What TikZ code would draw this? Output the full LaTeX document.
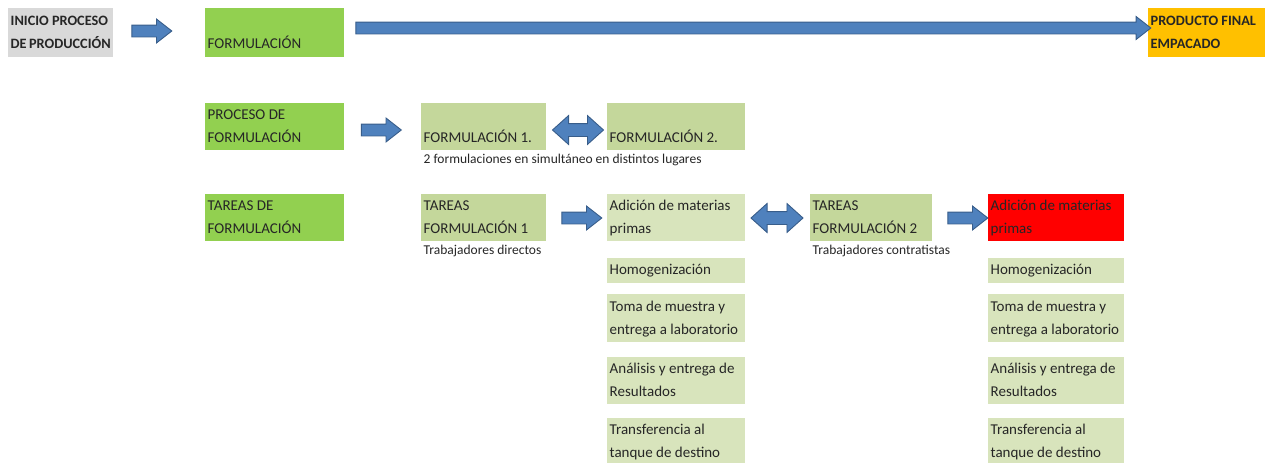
\documentclass[tikz,border=0pt]{standalone}
\usepackage{fontspec}
\setmainfont{Carlito}
\usepackage{tikz}
\usetikzlibrary{shapes.arrows, positioning}
\definecolor{gris}{HTML}{D9D9D9}
\definecolor{verde}{HTML}{92D050}
\definecolor{verdeclaro}{HTML}{C4D79B}
\definecolor{verdetarea}{HTML}{D8E4BC}
\definecolor{naranja}{HTML}{FFC000}
\definecolor{rojo}{HTML}{FF0000}
\definecolor{azul}{HTML}{4F81BD}
\definecolor{azulborde}{HTML}{385D8A}
\hyphenpenalty=10000
\exhyphenpenalty=10000
\tikzset{
  cell/.style 2 args={
    anchor=north west, inner xsep=2.5pt, inner ysep=0pt, align=flush left,
    minimum width=#1pt, minimum height=#2pt, text width=#1pt-5pt,
    text=black!85, font=\fontsize{15}{23}\selectfont
  },
  negrita/.style={font=\fontsize{14.3}{23}\selectfont\bfseries},
  note/.style={anchor=north west, inner xsep=1.5pt, inner ysep=4pt, text=black!85,
    font=\fontsize{13.5}{16}\selectfont},
  flecha/.style={single arrow, draw=azulborde, fill=azul, line width=0.9pt,
    inner xsep=0pt, inner ysep=5.5pt, minimum height=#1pt,
    single arrow head extend=6pt, single arrow tip angle=76},
  dflecha/.style={double arrow, draw=azulborde, fill=azul, line width=0.9pt,
    inner xsep=0pt, inner ysep=6pt, minimum height=#1pt,
    double arrow head extend=8pt, double arrow tip angle=84}
}

\begin{document}
\begin{tikzpicture}[x=1pt, y=-1pt]
\useasboundingbox (0,0) rectangle (1270,463);
% row 1
\node[cell={105}{49}, fill=gris, negrita] (inicio) at (8,8) {\strut INICIO~PROCESO\\DE~PRODUCCIÓN\strut};
\node[cell={139}{49}, fill=verde] (form) at (205,8) {\strut\\FORMULACIÓN\strut};
\node[cell={117}{49}, fill=naranja, negrita] (prod) at (1148,8) {\strut PRODUCTO~FINAL\\EMPACADO\strut};
% row 2
\node[cell={139}{47}, fill=verde] (proc) at (205,103) {\strut PROCESO~DE\\FORMULACIÓN\strut};
\node[cell={125}{47}, fill=verdeclaro] (f1) at (421,103) {\strut\\FORMULACIÓN~1.\strut};
\node[cell={138}{47}, fill=verdeclaro] (f2) at (607,103) {\strut\\FORMULACIÓN~2.\strut};
\node[note] (nf) at ([xshift=1pt]f1.south west) {2 formulaciones en simultáneo en distintos lugares};
% row 3
\node[cell={139}{47}, fill=verde] (tar) at (205,194) {\strut TAREAS~DE\\FORMULACIÓN\strut};
\node[cell={125}{47}, fill=verdeclaro] (t1) at (421,194) {\strut TAREAS\\FORMULACIÓN~1\strut};
\node[note] (nt1) at ([xshift=1pt]t1.south west) {Trabajadores directos};
\node[cell={122}{47}, fill=verdeclaro] (t2) at (810,194) {\strut TAREAS\\FORMULACIÓN~2\strut};
\node[note] (nt2) at ([xshift=1pt]t2.south west) {Trabajadores contratistas};
% task columns
\begin{scope}[every node/.append style={fill=verdetarea}]
\node[cell={138}{47}] (am1) at (607,194) {\strut Adición~de~materias\\primas\strut};
\node[cell={138}{25}] (hom1) at (607,258) {Homogenización};
\node[cell={138}{48}] (tom1) at (607,294) {\strut Toma~de~muestra~y\\entrega~a~laboratorio\strut};
\node[cell={138}{47}] (ana1) at (607,357) {\strut Análisis~y~entrega~de\\Resultados\strut};
\node[cell={138}{47}] (tra1) at (607,418) {\strut Transferencia~al\\tanque~de~destino\strut};
\node[cell={136}{47}, fill=rojo] (am2) at (988,194) {\strut Adición~de~materias\\primas\strut};
\node[cell={136}{25}] (hom2) at (988,258) {Homogenización};
\node[cell={136}{48}] (tom2) at (988,294) {\strut Toma~de~muestra~y\\entrega~a~laboratorio\strut};
\node[cell={136}{47}] (ana2) at (988,357) {\strut Análisis~y~entrega~de\\Resultados\strut};
\node[cell={136}{47}] (tra2) at (988,418) {\strut Transferencia~al\\tanque~de~destino\strut};
\end{scope}
% arrows
\node[flecha=40] (a1) at (148,31) {};
\node[flecha=795, single arrow head extend=5.5pt] (a2) at (749.5,28) {};
\node[flecha=40] (a3) at (377.5,130) {};
\node[dflecha=51] (a4) at (578,130) {};
\node[flecha=40] (a5) at (578,218) {};
\node[dflecha=52] (a6) at (777,218) {};
\node[flecha=40] (a7) at (964,218) {};
\end{tikzpicture}
\end{document}
